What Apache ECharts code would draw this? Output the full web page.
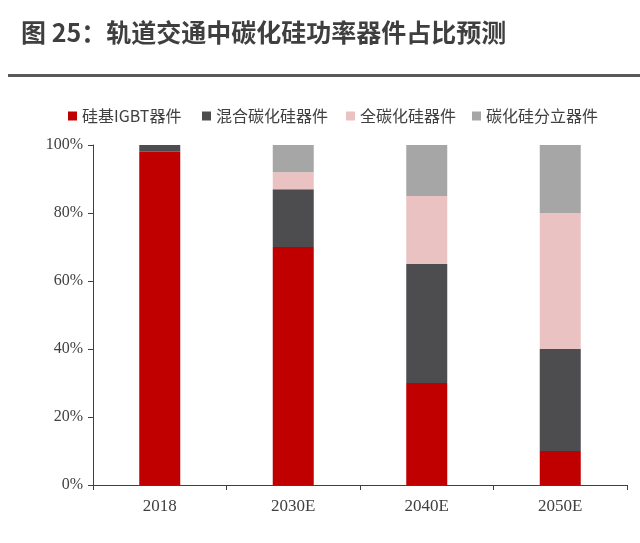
<!DOCTYPE html>
<html>
<head>
<meta charset="utf-8">
<script src="https://cdn.jsdelivr.net/npm/echarts@6/dist/echarts.min.js"></script>
<style>
html,body{margin:0;padding:0;background:#fff;}
#title{position:absolute;left:21px;top:13px;font-family:"Noto Sans CJK SC",sans-serif;font-weight:bold;font-size:25px;color:#3f3f3f;white-space:nowrap;}
#rule{position:absolute;left:8px;top:74px;width:632px;height:3px;background:#595959;}
#chart{position:absolute;left:0;top:0;width:640px;height:543px;}
</style>
</head>
<body>
<div id="chart"></div>
<div id="title">图 25：轨道交通中碳化硅功率器件占比预测</div>
<div id="rule"></div>
<script>
const categories = ['2018', '2030E', '2040E', '2050E'];
const seriesNames = ['硅基IGBT器件', '混合碳化硅器件', '全碳化硅器件', '碳化硅分立器件'];
const siIGBT = [98, 70, 30, 10];
const hybridSiC = [2, 17, 35, 30];
const fullSiC = [0, 5, 20, 40];
const discreteSiC = [0, 8, 15, 20];
const colors = ['#c00000', '#4d4d4f', '#ebc2c2', '#a6a6a6'];
const yTicks = [0, 20, 40, 60, 80, 100];

const values = [siIGBT, hybridSiC, fullSiC, discreteSiC];
const legendLeft = [63, 197, 341, 467];
const chart = echarts.init(document.getElementById('chart'));
const axisFont = {fontFamily: '"Liberation Serif", serif', fontSize: 17, color: '#404040'};
chart.setOption({
  animation: false,
  color: colors,
  legend: seriesNames.map((n, i) => ({
    left: legendLeft[i], top: 103,
    itemWidth: 9, itemHeight: 9,
    icon: 'rect',
    textStyle: {fontFamily: '"Noto Sans CJK SC", sans-serif', fontSize: 16, color: '#404040'},
    data: [n]
  })),
  grid: {left: 93, right: 13, top: 145, bottom: 58},
  xAxis: {
    type: 'category',
    data: categories,
    axisLine: {lineStyle: {color: '#404040', width: 1}},
    axisTick: {show: true, length: 5, lineStyle: {color: '#404040'}},
    axisLabel: Object.assign({margin: 13}, axisFont)
  },
  yAxis: {
    type: 'value',
    min: yTicks[0], max: yTicks[yTicks.length - 1], interval: 20,
    axisLine: {show: true, lineStyle: {color: '#404040', width: 1}},
    axisTick: {show: true, length: 5, lineStyle: {color: '#404040'}},
    splitLine: {show: false},
    axisLabel: Object.assign({margin: 10, formatter: '{value}%'}, axisFont, {fontSize: 16})
  },
  series: seriesNames.map((n, i) => ({
    name: n,
    type: 'bar',
    stack: 'total',
    barWidth: 41,
    data: values[i],
    itemStyle: {color: colors[i]}
  }))
});
</script>
</body>
</html>
